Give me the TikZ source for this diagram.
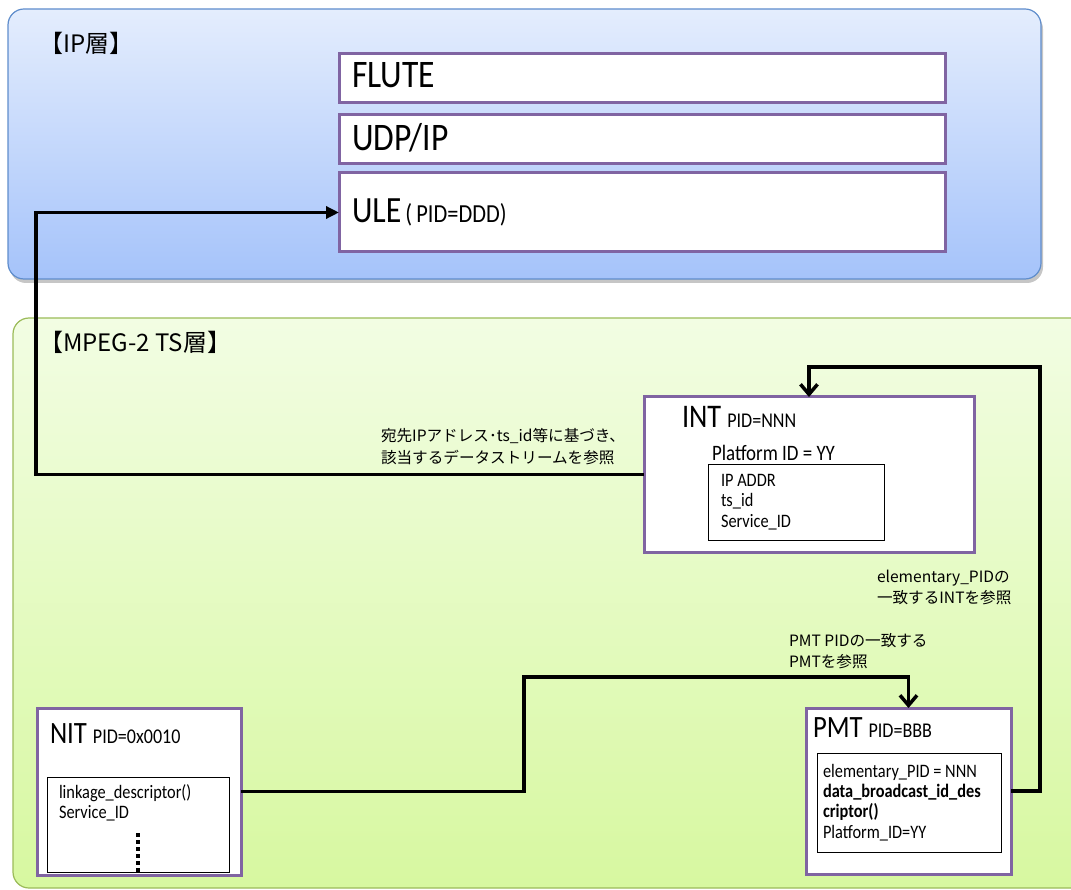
\documentclass[tikz,border=0pt]{standalone}
\usepackage{fontspec}
\setmainfont{Carlito}
\newfontfamily\boxfont[FakeStretch=0.86]{Carlito}
\newfontfamily\jpfont{Noto Sans CJK JP}
\usetikzlibrary{arrows.meta}
\definecolor{pborder}{HTML}{8064A2}
\definecolor{ipTop}{HTML}{E4EDFD}
\definecolor{ipBot}{HTML}{A5C3FA}
\definecolor{ipLine}{HTML}{5F8DCC}
\definecolor{tsTop}{HTML}{F2FDE3}
\definecolor{tsBot}{HTML}{D7F8A0}
\definecolor{tsLine}{HTML}{9BBB59}
\newcommand\fsz[1]{\fontsize{#1}{#1}\selectfont}
\begin{document}
\begin{tikzpicture}[x=1pt,y=-1pt,
  pbox/.style={draw=pborder, line width=3pt, fill=white, anchor=north west, inner sep=0pt, outer sep=0pt},
  ibox/.style={draw=black, line width=1pt, fill=white, anchor=north west, inner sep=0pt, outer sep=0pt},
  txt/.style={anchor=base west, inner sep=0pt, outer sep=0pt},
  lbl/.style={anchor=base west, inner sep=0pt, outer sep=0pt, font=\jpfont\fsz{15.6}},
  layerlbl/.style={anchor=base west, inner sep=0pt, outer sep=0pt, font=\jpfont\fsz{24}},
  conn/.style={line width=3.5pt, draw=black},
  barb/.style={-{Straight Barb[length=10pt,width=17pt]}},
  tri/.style={-{Triangle[length=13pt,width=12pt]}}
]
\useasboundingbox (0,0) rectangle (1071,890);
\clip (0,0) rectangle (1071,890);

% IP layer
\fill[gray!45, rounded corners=16pt] (10,13) rectangle (1043,283);
\shadedraw[rounded corners=16pt, top color=ipTop, bottom color=ipBot, draw=ipLine, line width=1.2pt] (8,9) rectangle (1041,279);
\node[layerlbl] (iplbl) at (39,53) {【IP層】};

% TS layer
\shadedraw[rounded corners=16pt, top color=tsTop, bottom color=tsBot, draw=tsLine, line width=1.2pt] (13,318) rectangle (1110,888);
\node[layerlbl] (tslbl) at (39,352) {【MPEG-2 TS層】};

% protocol boxes
\node[pbox, minimum width=606pt, minimum height=49pt] (flute) at (339,54) {};
\node[pbox, minimum width=606pt, minimum height=49pt] (udp) at (339,115) {};
\node[pbox, minimum width=606pt, minimum height=79pt] (ule) at (339,173) {};
\node[txt, font=\boxfont\fsz{39}] (flutet) at (352,88) {FLUTE};
\node[txt, font=\boxfont\fsz{39}] (udpt) at (352,151) {UDP/IP};
\node[txt, font=\boxfont\fsz{37}] (ulet) at (352,223) {ULE};
\node[txt, font=\boxfont\fsz{26}, xshift=4pt] (ulepid) at (ulet.base east) {(\,PID=DDD)};

% INT
\node[pbox, minimum width=330pt, minimum height=155pt] (int) at (644,397) {};
\node[txt, font=\boxfont\fsz{33}] (intt) at (682,428) {INT};
\node[txt, font=\boxfont\fsz{21}, xshift=6pt] (intpid) at (intt.base east) {PID=NNN};
\node[txt, font=\boxfont\fsz{22}] (intpf) at (712,460) {Platform ID = YY};
\node[ibox, minimum width=176pt, minimum height=76pt] (intin) at (708,464) {};
\node[txt, font=\boxfont\fsz{19}] (intl1) at (721,486) {IP ADDR};
\node[txt, font=\boxfont\fsz{19}] (intl2) at (721,506) {ts\_id};
\node[txt, font=\boxfont\fsz{19}] (intl3) at (721,527) {Service\_ID};

% NIT
\node[pbox, minimum width=204pt, minimum height=167pt] (nit) at (37,708) {};
\node[txt, font=\boxfont\fsz{31}] (nitt) at (50,743) {NIT};
\node[txt, font=\boxfont\fsz{21}, xshift=6pt] (nitpid) at (nitt.base east) {PID=0x0010};
\node[ibox, minimum width=182pt, minimum height=95pt] (nitin) at (47,777) {};
\node[txt, font=\boxfont\fsz{19}] (nitl1) at (59,798) {linkage\_descriptor()};
\node[txt, font=\boxfont\fsz{19}] (nitl2) at (59,818) {Service\_ID};
\draw[line width=3.5pt, dash pattern=on 3.5pt off 3.5pt] ([yshift=39pt]nitin.south) -- (nitin.south);

% PMT
\node[pbox, minimum width=205pt, minimum height=166pt] (pmt) at (806,708) {};
\node[txt, font=\boxfont\fsz{31}] (pmtt) at (813,737) {PMT};
\node[txt, font=\boxfont\fsz{21}, xshift=6pt] (pmtpid) at (pmtt.base east) {PID=BBB};
\node[ibox, minimum width=184pt, minimum height=99pt] (pmtin) at (817,753) {};
\node[txt, font=\boxfont\fsz{19}] (pmtl1) at (823,777) {elementary\_PID = NNN};
\node[txt, font=\boxfont\fsz{19}\bfseries] (pmtl2) at (823,797) {data\_broadcast\_id\_des};
\node[txt, font=\boxfont\fsz{19}\bfseries] (pmtl3) at (823,817) {criptor()};
\node[txt, font=\boxfont\fsz{19}] (pmtl4) at (823,838) {Platform\_ID=YY};

% connector labels
\node[lbl] (la1) at (381,442) {宛先IPアドレス･ts\_id等に基づき、};
\node[lbl] (la2) at (381,463) {該当するデータストリームを参照};
\node[lbl] (lb1) at (877,582) {elementary\_PIDの};
\node[lbl] (lb2) at (877,603) {一致するINTを参照};
\node[lbl] (lc1) at (789,646) {PMT PIDの一致する};
\node[lbl] (lc2) at (789,667) {PMTを参照};

% connectors
\coordinate (intabove) at ([yshift=30pt]int.north);
\coordinate (pmtabove) at ([yshift=31pt]pmt.north);
\draw[conn, tri] (int.west) -- ++(-608,0) |- (ule.west);
\draw[conn, barb] (pmt.east) -- ++(29,0) |- (intabove) -- (int.north);
\draw[conn, barb] (nit.east) -- ++(283,0) |- (pmtabove) -- (pmt.north);
\end{tikzpicture}
\end{document}
